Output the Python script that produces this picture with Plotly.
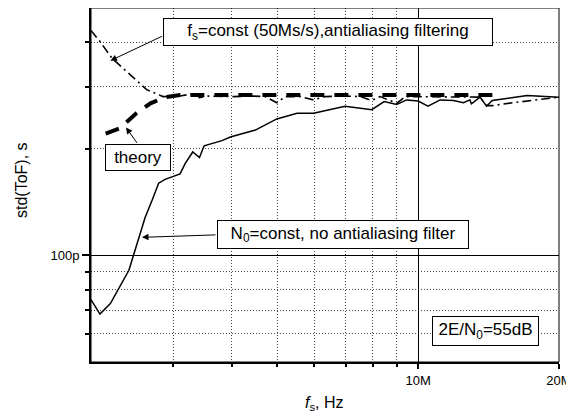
import numpy as np
import plotly.graph_objects as go

# ---- data (frequency in MHz, std in ps) ----
solid_f = [2.00, 2.09, 2.20, 2.29, 2.41, 2.47, 2.55, 2.61, 2.70, 2.79, 2.88, 3.00, 3.10, 3.18, 3.30, 3.41,
           3.49, 3.81, 3.97, 4.49, 4.99, 5.51, 5.98, 6.98, 7.96, 8.46, 9.00, 9.45, 10.0, 10.5, 11.14,
           11.9, 12.5, 12.9, 13.0, 13.56, 14.0, 14.4, 17.1, 20.0]
solid_s = [75.0, 68.3, 73.1, 80.6, 90.8, 101, 117, 128, 143, 160, 164, 167, 170, 182, 196, 189,
           204, 211, 216, 226, 243, 252, 252, 264, 258, 272, 267, 275, 273, 264, 275,
           274, 270, 275, 268, 280, 264, 274, 283, 280]

dashdot_f = [2.00, 2.09, 2.22, 2.39, 2.51, 2.63, 2.85, 3.10, 3.34, 3.41, 3.54, 4.03, 4.44, 4.71, 4.99,
             5.20, 5.60, 5.98, 6.33, 6.98, 7.52, 7.96, 8.29, 9.00, 9.38, 10.0, 11.14, 12.3, 13.56,
             14.0, 14.4, 15.95, 20.0]
dashdot_s = [432, 402, 360, 329, 311, 294, 281, 282, 287, 279, 282, 281, 282, 281, 270,
             281, 281, 275, 281, 282, 281, 274, 281, 269, 281, 281, 281, 280, 280,
             265, 265, 270, 280]

theory_f = [2.15, 2.31, 2.49, 2.68, 2.88, 3.10, 4.0, 6.0, 8.0, 10.0, 12.0, 14.5]
theory_s = [221, 229, 251, 269, 280, 284, 284, 284, 284, 284, 284, 284]

x_major = [10e6, 20e6]
x_major_text = ["10M", "20M"]
x_minor = [3e6, 4e6, 5e6, 6e6, 7e6, 8e6, 9e6]
y_major = [100e-12]
y_major_text = ["100p"]
y_minor = [60e-12, 70e-12, 80e-12, 90e-12, 200e-12, 300e-12, 400e-12]

MHz = 1e6
ps = 1e-12

fig = go.Figure()
fig.add_trace(go.Scatter(x=[f * MHz for f in solid_f], y=[s * ps for s in solid_s], mode="lines",
                         line=dict(color="black", width=1.5), showlegend=False))
fig.add_trace(go.Scatter(x=[f * MHz for f in dashdot_f], y=[s * ps for s in dashdot_s], mode="lines",
                         line=dict(color="black", width=1.6, dash="9px,4px,2px,4px"), showlegend=False))
fig.add_trace(go.Scatter(x=[f * MHz for f in theory_f], y=[s * ps for s in theory_s], mode="lines",
                         line=dict(color="black", width=4, dash="14px,10px"), showlegend=False))

FONT = "Liberation Sans, Arial, sans-serif"

fig.update_xaxes(type="log", range=[np.log10(2e6), np.log10(2e7)],
                 tickmode="array", tickvals=x_major, ticktext=x_major_text,
                 ticks="outside", ticklen=5, tickwidth=1.5, tickcolor="black",
                 showgrid=True, gridcolor="black", gridwidth=1,
                 showline=True, linecolor="black", linewidth=2, mirror=False,
                 tickfont=dict(size=13, color="black", family=FONT),
                 minor=dict(tickmode="array", tickvals=x_minor, ticks="outside", ticklen=3,
                            tickcolor="black", tickwidth=1.5, showgrid=True,
                            gridcolor="#444", gridwidth=1, griddash="1px,2px"),
                 zeroline=False)
fig.update_yaxes(type="log", range=[np.log10(5e-11), np.log10(5e-10)],
                 tickmode="array", tickvals=y_major, ticktext=y_major_text,
                 ticks="outside", ticklen=7, tickwidth=1.5, tickcolor="black",
                 showgrid=True, gridcolor="black", gridwidth=1,
                 showline=True, linecolor="black", linewidth=2, mirror=False,
                 tickfont=dict(size=13, color="black", family=FONT),
                 minor=dict(tickmode="array", tickvals=y_minor, ticks="outside", ticklen=4,
                            tickcolor="black", tickwidth=1.5, showgrid=True,
                            gridcolor="#444", gridwidth=1, griddash="1px,2px"),
                 zeroline=False)

# frame (top & right)
fig.add_shape(type="rect", xref="paper", yref="paper", x0=0, y0=0, x1=1, y1=1,
              line=dict(color="black", width=1), layer="above")

ann_font = dict(size=17, color="black", family=FONT)
boxes = [
    ("f<sub>s</sub>=const (50Ms/s),antialiasing filtering", 0.5073, 0.9331, 326, 24),
    ("theory", 0.0999, 0.5765, 62, 23),
    ("N<sub>0</sub>=const, no antialiasing filter", 0.5386, 0.3591, 248, 25),
    ("2E/N<sub>0</sub>=55dB", 0.8439, 0.0875, 103, 26),
]
for txt, xp, yp, w, h in boxes:
    fig.add_annotation(text=txt, xref="paper", yref="paper", x=xp, y=yp,
                       xanchor="center", yanchor="middle", showarrow=False,
                       width=w, height=h, align="center", valign="middle",
                       bgcolor="white", bordercolor="black", borderwidth=1, borderpad=1,
                       font=ann_font)

# arrows (tip on curve, tail at box)
arrows = [
    (2.20e6, 355e-12, 53, -25),
    (2.376e6, 230e-12, 12, 17),
    (2.57e6, 112.5e-12, 75, -2.5),
]
for xa, ya, axo, ayo in arrows:
    fig.add_annotation(text="", x=np.log10(xa), y=np.log10(ya), xref="x", yref="y",
                       showarrow=True, ax=axo, ay=ayo, axref="pixel", ayref="pixel",
                       arrowhead=2, arrowsize=1.3, arrowwidth=1, arrowcolor="black",
                       standoff=0, startstandoff=0)

# axis titles (page px -> paper: plot area spans x 91..559, y 8..362 on the page)
fig.add_annotation(text="std(ToF), s", xref="paper", yref="paper",
                   x=(21 - 91) / 468, y=(362 - 180) / 354, textangle=-90,
                   xanchor="center", yanchor="middle", showarrow=False,
                   font=dict(size=16, color="black", family=FONT))
fig.add_annotation(text="<i>f</i><sub>s</sub>, Hz", xref="paper", yref="paper",
                   x=(324 - 91) / 468, y=(362 - 404) / 354,
                   xanchor="center", yanchor="middle", showarrow=False,
                   font=dict(size=16, color="black", family=FONT))

# the page body has an 8px default margin, so the figure is drawn 8px smaller
fig.update_layout(width=566, height=408, margin=dict(l=83, r=15, t=0, b=54),
                  paper_bgcolor="white", plot_bgcolor="white",
                  font=dict(family=FONT, color="black"), showlegend=False)

fig.write_html("out.html")
